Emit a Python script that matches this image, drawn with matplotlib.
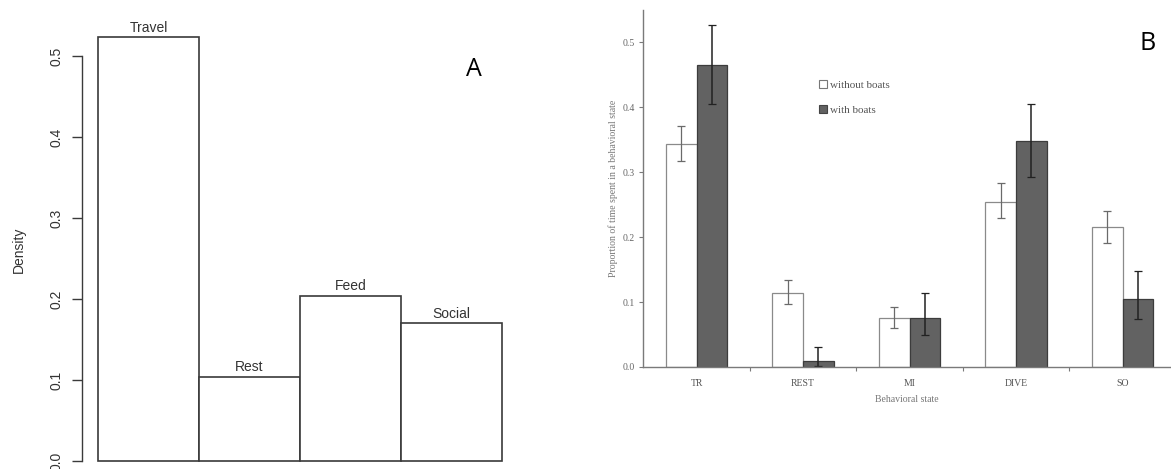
import matplotlib
matplotlib.use("Agg")
import matplotlib.pyplot as plt
import numpy as np
from matplotlib.patches import Patch

# ---------------- data ----------------
# Panel A
cats_a = ["Travel", "Rest", "Feed", "Social"]
density_a = [0.523, 0.104, 0.204, 0.170]
yticks_a = [0.0, 0.1, 0.2, 0.3, 0.4, 0.5]

# Panel B
cats_b = ["TR", "REST", "MI", "DIVE", "SO"]
without_boats = [0.343, 0.114, 0.075, 0.255, 0.215]
without_lo = [0.317, 0.097, 0.060, 0.229, 0.191]
without_hi = [0.372, 0.134, 0.092, 0.283, 0.241]
with_boats = [0.466, 0.010, 0.075, 0.348, 0.105]
with_lo = [0.405, 0.002, 0.049, 0.292, 0.074]
with_hi = [0.527, 0.031, 0.114, 0.405, 0.148]
yticks_b = [0.0, 0.1, 0.2, 0.3, 0.4, 0.5]

W, H = 1171, 469
fig = plt.figure(figsize=(W / 100, H / 100), dpi=100)
fig.patch.set_facecolor("white")

def px(x0, y0, x1, y1):
    # pixel box (top-left origin) -> figure fraction rect
    return [x0 / W, 1 - y1 / H, (x1 - x0) / W, (y1 - y0) / H]

# ---------------- Panel A ----------------
axA = fig.add_axes(px(82, 0, 530, 469))
axA.patch.set_alpha(0)
pxu_x = 101.0
pxu_y = 810.0
axA.set_xlim(-(98 - 82) / pxu_x, (530 - 98) / pxu_x)
axA.set_ylim(-(469 - 461) / pxu_y, 461 / pxu_y)
xa = np.arange(len(cats_a)) + 0.5
axA.bar(xa, density_a, width=1.0, facecolor="white", edgecolor="#3a3a3a", linewidth=1.2)
for x, v, lab in zip(xa, density_a, cats_a):
    axA.annotate(lab, (x, v), xytext=(0, 7.0), textcoords="offset points",
                 ha="center", va="center", fontsize=10, color="#333333",
                 family="Liberation Sans")
for s in ["top", "right", "bottom"]:
    axA.spines[s].set_visible(False)
axA.spines["left"].set_bounds(0, 0.5)
axA.spines["left"].set_color("#3a3a3a")
axA.spines["left"].set_linewidth(1.0)
axA.set_xticks([])
axA.set_yticks(yticks_a)
axA.set_yticklabels([f"{t:.1f}" for t in yticks_a], rotation=90, va="center",
                    family="Liberation Sans", fontsize=10, color="#333333")
axA.tick_params(axis="y", length=7, width=1.0, color="#3a3a3a", pad=6)
axA.set_ylabel("Density", family="Liberation Sans", fontsize=10, color="#333333")
axA.yaxis.set_label_coords(26 / W, 1 - 250 / H, transform=fig.transFigure)
fig.text(474 / W, 1 - 70 / H, "A", fontsize=18, family="Open Sans",
         ha="center", va="center", color="black")

# ---------------- Panel B ----------------
axB = fig.add_axes(px(643.3, 10, 1171, 367))
axB.patch.set_alpha(0)
unit_x = 106.5
axB.set_xlim(-0.5, -0.5 + (1171 - 643.3) / unit_x)
axB.set_ylim(0, (367 - 10) / 649.0)
xb = np.arange(len(cats_b))
bw = 0.288
xw = xb - bw / 2
xd = xb + bw / 2
axB.bar(xw, without_boats, width=bw, facecolor="white", edgecolor="#8a8a8a", linewidth=0.9)
axB.bar(xd, with_boats, width=bw, facecolor="#626262", edgecolor="#3c3c3c", linewidth=0.9)
err_w = [np.array(without_boats) - np.array(without_lo), np.array(without_hi) - np.array(without_boats)]
err_d = [np.array(with_boats) - np.array(with_lo), np.array(with_hi) - np.array(with_boats)]
axB.errorbar(xw, without_boats, yerr=err_w, fmt="none", ecolor="#6a6a6a", elinewidth=0.9,
             capsize=3.2, capthick=0.9)
axB.errorbar(xd, with_boats, yerr=err_d, fmt="none", ecolor="#222222", elinewidth=1.1,
             capsize=3.2, capthick=0.9)
for s in ["top", "right"]:
    axB.spines[s].set_visible(False)
for s in ["left", "bottom"]:
    axB.spines[s].set_color("#7a7a7a")
    axB.spines[s].set_linewidth(1.0)
serif = "Liberation Serif"
axB.set_yticks(yticks_b)
axB.set_yticklabels([f"{t:.1f}" for t in yticks_b], family=serif, fontsize=7, color="#666666")
axB.tick_params(axis="y", length=3, width=0.8, color="#7a7a7a", pad=3)
axB.set_xticks(xb)
axB.set_xticklabels(cats_b, family=serif, fontsize=7, color="#555555")
axB.set_xticks(xb[:-1] + 0.5, minor=True)
axB.tick_params(axis="x", which="major", length=0, pad=9)
axB.tick_params(axis="x", which="minor", length=3, direction="out", width=0.8, color="#7a7a7a")
axB.set_xlabel("Behavioral state", family=serif, fontsize=7, color="#777777", labelpad=5)
axB.set_ylabel("Proportion of time spent in a behavioral state", family=serif, fontsize=7,
               color="#777777", labelpad=3)
leg = axB.legend(handles=[Patch(facecolor="white", edgecolor="#777777", linewidth=0.8),
                          Patch(facecolor="#626262", edgecolor="#444444", linewidth=0.8)],
                 labels=["without boats", "with boats"], frameon=False,
                 prop={"family": serif, "size": 8}, labelcolor="#555555",
                 handlelength=0.75, handleheight=0.75, handletextpad=0.3,
                 labelspacing=1.35, borderpad=0, borderaxespad=0,
                 loc="upper left", bbox_to_anchor=(818.5 / W, 1 - 80 / H),
                 bbox_transform=fig.transFigure)
fig.text(1148 / W, 1 - 44 / H, "B", fontsize=18, family="Open Sans",
         ha="center", va="center", color="black")

fig.savefig("out.png", dpi=100, facecolor="white")
